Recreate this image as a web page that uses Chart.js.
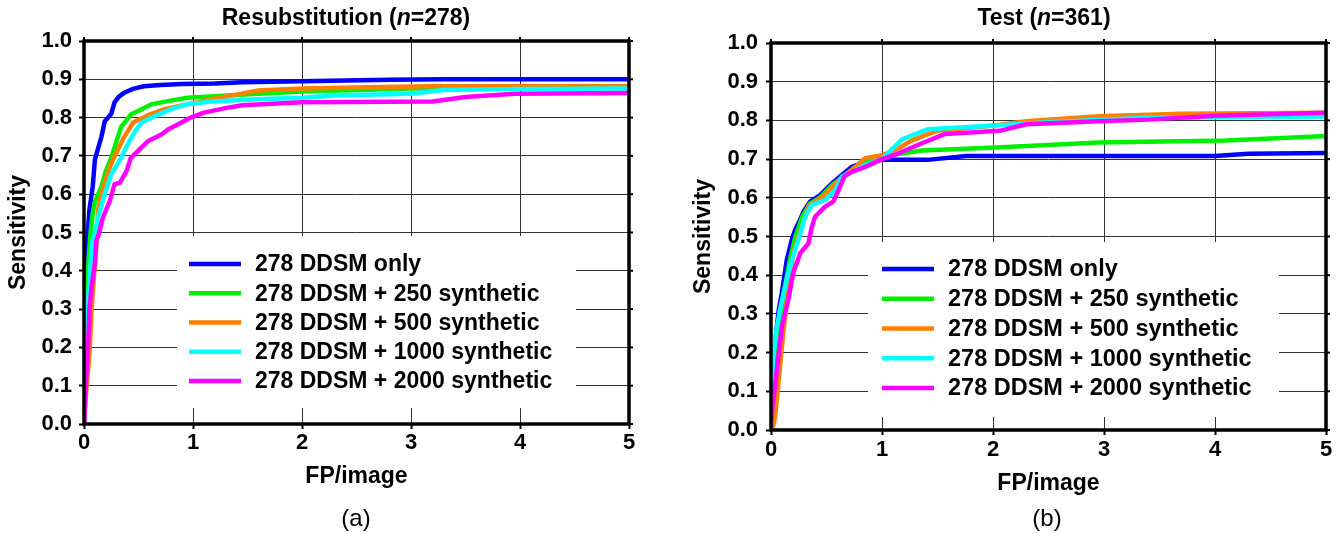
<!DOCTYPE html>
<html>
<head>
<meta charset="utf-8">
<script src="https://cdn.jsdelivr.net/npm/chart.js@4.4.1/dist/chart.umd.min.js"></script>
<style>
html,body{margin:0;padding:0;background:#fff;width:1340px;height:534px;overflow:hidden;}
canvas{position:absolute;top:0;}
#ca{left:0;} #cb{left:670px;}
.cap{position:absolute;top:503px;width:80px;text-align:center;font:24px "Liberation Sans",Arial,sans-serif;line-height:30px;color:#000;}
</style>
</head>
<body>
<canvas id="ca" width="670" height="534"></canvas>
<canvas id="cb" width="670" height="534"></canvas>
<div class="cap" style="left:316px;">(a)</div>
<div class="cap" style="left:1007px;">(b)</div>
<script>
// ---------- DATA ----------
const seriesLabels = ['278 DDSM only', '278 DDSM + 250 synthetic', '278 DDSM + 500 synthetic', '278 DDSM + 1000 synthetic', '278 DDSM + 2000 synthetic'];
const titleA = ['Resubstitution (', 'n', '=278)'];
const titleB = ['Test (', 'n', '=361)'];
const xAxisTitle = 'FP/image';
const yAxisTitle = 'Sensitivity';

// (a) Resubstitution
const fpA_only = [0, 0.01, 0.02, 0.03, 0.05, 0.08, 0.1, 0.13, 0.16, 0.19, 0.22, 0.25, 0.28, 0.32, 0.37, 0.45, 0.55, 0.7, 0.9, 1.2, 1.45, 2.0, 2.8, 3.3, 5];
const senA_only = [0, 0.3, 0.42, 0.48, 0.56, 0.62, 0.69, 0.72, 0.75, 0.79, 0.80, 0.81, 0.84, 0.855, 0.865, 0.875, 0.882, 0.885, 0.888, 0.889, 0.892, 0.895, 0.899, 0.9, 0.9];
const fpA_250 = [0, 0.01, 0.02, 0.04, 0.06, 0.08, 0.1, 0.13, 0.16, 0.2, 0.25, 0.3, 0.34, 0.43, 0.53, 0.62, 0.77, 0.95, 1.2, 1.6, 2.0, 2.6, 3.0, 3.9, 5];
const senA_250 = [0, 0.15, 0.3, 0.42, 0.5, 0.55, 0.58, 0.6, 0.62, 0.66, 0.695, 0.74, 0.775, 0.808, 0.822, 0.835, 0.843, 0.852, 0.856, 0.862, 0.868, 0.873, 0.876, 0.879, 0.88];
const fpA_500 = [0, 0.01, 0.03, 0.05, 0.07, 0.09, 0.11, 0.13, 0.16, 0.2, 0.25, 0.3, 0.36, 0.45, 0.6, 0.74, 0.9, 1.02, 1.17, 1.4, 1.6, 2.0, 2.6, 3.2, 4.2, 5];
const senA_500 = [0, 0.05, 0.12, 0.18, 0.3, 0.38, 0.45, 0.56, 0.6, 0.64, 0.68, 0.71, 0.745, 0.787, 0.808, 0.822, 0.832, 0.839, 0.848, 0.86, 0.871, 0.876, 0.879, 0.882, 0.882, 0.882];
const fpA_1000 = [0, 0.01, 0.02, 0.04, 0.06, 0.08, 0.1, 0.13, 0.16, 0.19, 0.25, 0.34, 0.4, 0.47, 0.53, 0.65, 0.8, 0.95, 1.17, 1.4, 1.6, 2.0, 2.3, 3.0, 3.3, 4.0, 5];
const senA_1000 = [0, 0.1, 0.24, 0.33, 0.42, 0.48, 0.5, 0.54, 0.57, 0.6, 0.652, 0.695, 0.73, 0.765, 0.787, 0.804, 0.822, 0.835, 0.842, 0.845, 0.848, 0.852, 0.858, 0.862, 0.872, 0.875, 0.876];
const fpA_2000 = [0, 0.005, 0.02, 0.04, 0.05, 0.07, 0.1, 0.113, 0.14, 0.174, 0.236, 0.28, 0.33, 0.39, 0.43, 0.51, 0.59, 0.71, 0.77, 0.86, 0.98, 1.1, 1.32, 1.45, 2.0, 3.2, 3.5, 3.95, 5];
const senA_2000 = [0, 0.02, 0.12, 0.22, 0.3, 0.36, 0.42, 0.478, 0.5, 0.539, 0.582, 0.626, 0.63, 0.66, 0.695, 0.717, 0.739, 0.756, 0.769, 0.782, 0.8, 0.813, 0.826, 0.832, 0.84, 0.842, 0.854, 0.862, 0.864];

// (b) Test
const fpB_only = [0, 0.01, 0.03, 0.05, 0.07, 0.097, 0.142, 0.187, 0.217, 0.262, 0.292, 0.352, 0.443, 0.548, 0.639, 0.729, 0.85, 1.0, 1.41, 1.76, 4.0, 4.3, 5];
const senB_only = [0, 0.1, 0.2, 0.26, 0.31, 0.353, 0.439, 0.491, 0.517, 0.543, 0.564, 0.59, 0.607, 0.637, 0.659, 0.68, 0.693, 0.698, 0.698, 0.708, 0.708, 0.714, 0.716];
const fpB_250 = [0, 0.01, 0.03, 0.05, 0.08, 0.12, 0.17, 0.22, 0.28, 0.35, 0.44, 0.55, 0.65, 0.75, 0.85, 1.0, 1.15, 1.36, 2.03, 2.95, 4.1, 5];
const senB_250 = [0, 0.06, 0.15, 0.22, 0.28, 0.36, 0.44, 0.5, 0.55, 0.585, 0.6, 0.633, 0.655, 0.675, 0.69, 0.705, 0.713, 0.722, 0.73, 0.743, 0.748, 0.76];
const fpB_500 = [0, 0.02, 0.036, 0.06, 0.08, 0.11, 0.15, 0.2, 0.247, 0.337, 0.397, 0.488, 0.578, 0.668, 0.759, 0.849, 1.0, 1.15, 1.26, 1.49, 1.99, 2.3, 2.95, 3.7, 5];
const senB_500 = [0, 0.01, 0.034, 0.1, 0.16, 0.25, 0.35, 0.456, 0.5, 0.577, 0.59, 0.607, 0.637, 0.659, 0.68, 0.702, 0.71, 0.728, 0.747, 0.773, 0.786, 0.798, 0.811, 0.817, 0.82];
const fpB_1000 = [0, 0.01, 0.02, 0.05, 0.08, 0.126, 0.187, 0.247, 0.307, 0.368, 0.488, 0.578, 0.639, 0.729, 0.849, 1.0, 1.18, 1.41, 1.99, 2.5, 3.33, 4.0, 5];
const senB_1000 = [0, 0.1, 0.19, 0.26, 0.31, 0.37, 0.439, 0.491, 0.551, 0.582, 0.594, 0.62, 0.655, 0.667, 0.685, 0.70, 0.751, 0.777, 0.786, 0.795, 0.806, 0.808, 0.81];
const fpB_2000 = [0, 0.01, 0.03, 0.066, 0.1, 0.156, 0.2, 0.262, 0.337, 0.368, 0.397, 0.488, 0.56, 0.61, 0.66, 0.729, 0.849, 1.0, 1.15, 1.36, 1.57, 2.06, 2.3, 2.95, 3.4, 4.0, 5];
const senB_2000 = [0, 0.05, 0.1, 0.19, 0.27, 0.336, 0.405, 0.456, 0.482, 0.525, 0.551, 0.577, 0.59, 0.62, 0.655, 0.667, 0.68, 0.70, 0.715, 0.741, 0.765, 0.773, 0.79, 0.798, 0.802, 0.812, 0.82];

// ---------- RENDERING ----------
const FONT = '"Liberation Sans", Arial, Helvetica, sans-serif';
const COLORS = ['#0000ff', '#00f000', '#ff8000', '#00ffff', '#ff00ff'];
const DRAW_ORDER = [5, 4, 3, 2, 1];

function pts(xs, ys) { return xs.map((x, i) => ({ x: x, y: ys[i] })); }

function makeDatasets(pairs) {
  return pairs.map((p, i) => ({
    label: seriesLabels[i],
    data: pts(p[0], p[1]),
    borderColor: COLORS[i],
    backgroundColor: COLORS[i],
    borderWidth: 4.5,
    pointRadius: 0,
    tension: 0,
    fill: false,
    borderJoinStyle: 'round',
    order: DRAW_ORDER[i]
  }));
}

const decor = {
  id: 'decor',
  afterDatasetsDraw(chart, args, o) {
    const ctx = chart.ctx, a = chart.chartArea;
    ctx.save();
    // legend box inside plot
    const L = o.legend;
    ctx.fillStyle = '#fff';
    ctx.fillRect(L.x, L.y, L.w, L.h);
    ctx.font = 'bold ' + L.size + 'px ' + FONT;
    ctx.textBaseline = 'middle';
    ctx.textAlign = 'left';
    chart.data.datasets.forEach((ds, i) => {
      const yy = L.row0 + i * L.gap;
      ctx.strokeStyle = ds.borderColor;
      ctx.lineWidth = 4.5;
      ctx.lineCap = 'butt';
      ctx.beginPath(); ctx.moveTo(L.lx1, yy); ctx.lineTo(L.lx2, yy); ctx.stroke();
      ctx.fillStyle = '#000';
      ctx.fillText(ds.label, L.tx, yy + 1);
    });
    // frame
    ctx.strokeStyle = '#000';
    ctx.lineWidth = 3.5;
    ctx.strokeRect(a.left, a.top, a.right - a.left, a.bottom - a.top);
    // small outer ticks on top and right borders
    const xs = chart.scales.x, ys = chart.scales.y;
    ctx.lineWidth = 2;
    xs.ticks.forEach(t => {
      const px = xs.getPixelForValue(t.value);
      ctx.beginPath(); ctx.moveTo(px, a.top); ctx.lineTo(px, a.top - 4); ctx.stroke();
    });
    ys.ticks.forEach(t => {
      const py = ys.getPixelForValue(t.value);
      ctx.beginPath(); ctx.moveTo(a.right, py); ctx.lineTo(a.right + 4, py); ctx.stroke();
    });
    // title with italic n
    const T = o.title;
    const fonts = ['bold ' + T.size + 'px ' + FONT, 'bold italic ' + T.size + 'px ' + FONT, 'bold ' + T.size + 'px ' + FONT];
    let total = 0;
    const widths = T.parts.map((s, i) => { ctx.font = fonts[i]; const w = ctx.measureText(s).width; total += w; return w; });
    let x = T.cx - total / 2;
    ctx.fillStyle = '#000';
    ctx.textBaseline = 'middle';
    T.parts.forEach((s, i) => { ctx.font = fonts[i]; ctx.fillText(s, x, T.cy); x += widths[i]; });
    ctx.restore();
  }
};

function makeChart(id, pairs, cfg) {
  return new Chart(document.getElementById(id), {
    type: 'line',
    data: { datasets: makeDatasets(pairs) },
    plugins: [decor],
    options: {
      responsive: false,
      animation: false,
      devicePixelRatio: 1,
      layout: { padding: { left: 0, right: cfg.padRight, top: cfg.top, bottom: 0 } },
      plugins: {
        legend: { display: false },
        tooltip: { enabled: false },
        title: { display: false },
        decor: { legend: cfg.legend, title: cfg.title }
      },
      scales: {
        x: {
          type: 'linear', min: 0, max: 5,
          afterFit: s => { s.height = cfg.xHeight; },
          ticks: { stepSize: 1, padding: cfg.xTickPad, color: '#000', font: { family: FONT, size: cfg.tickSize, weight: 'bold' } },
          grid: { color: '#333', lineWidth: 1, tickLength: 5, tickColor: '#000', tickWidth: 2 },
          border: { display: false },
          title: { display: true, text: xAxisTitle, color: '#000', font: { family: FONT, size: cfg.axisSize, weight: 'bold' }, padding: { top: 0, bottom: cfg.xTitlePad } }
        },
        y: {
          type: 'linear', min: 0, max: 1,
          afterFit: s => { s.width = cfg.yWidth; },
          ticks: { stepSize: 0.1, padding: cfg.yTickPad, color: '#000', font: { family: FONT, size: cfg.tickSize, weight: 'bold' }, callback: v => v.toFixed(1) },
          grid: { color: '#333', lineWidth: 1, tickLength: 5, tickColor: '#000', tickWidth: 2 },
          border: { display: false },
          title: { display: true, text: yAxisTitle, color: '#000', font: { family: FONT, size: cfg.axisSize, weight: 'bold' }, padding: { top: cfg.yTitlePad, bottom: 0 } }
        }
      }
    }
  });
}

makeChart('ca', [
  [fpA_only, senA_only], [fpA_250, senA_250], [fpA_500, senA_500], [fpA_1000, senA_1000], [fpA_2000, senA_2000]
], {
  padRight: 41, top: 41, xHeight: 110, yWidth: 84, xTickPad: 1, yTickPad: 7, xTitlePad: 44, yTitlePad: 5,
  tickSize: 22, axisSize: 23,
  title: { parts: titleA, cx: 346, cy: 19, size: 23 },
  legend: { x: 177, y: 236, w: 399, h: 172, row0: 264, gap: 29.25, lx1: 189, lx2: 241, tx: 255, size: 23 }
});

makeChart('cb', [
  [fpB_only, senB_only], [fpB_250, senB_250], [fpB_500, senB_500], [fpB_1000, senB_1000], [fpB_2000, senB_2000]
], {
  padRight: 14, top: 43, xHeight: 104, yWidth: 101, xTickPad: 2, yTickPad: 8, xTitlePad: 37, yTitlePad: 20,
  tickSize: 22, axisSize: 23,
  title: { parts: titleB, cx: 374, cy: 19, size: 23 },
  legend: { x: 198, y: 242, w: 411, h: 175, row0: 269, gap: 29.75, lx1: 212, lx2: 264, tx: 278, size: 23.5 }
});
</script>
</body>
</html>
